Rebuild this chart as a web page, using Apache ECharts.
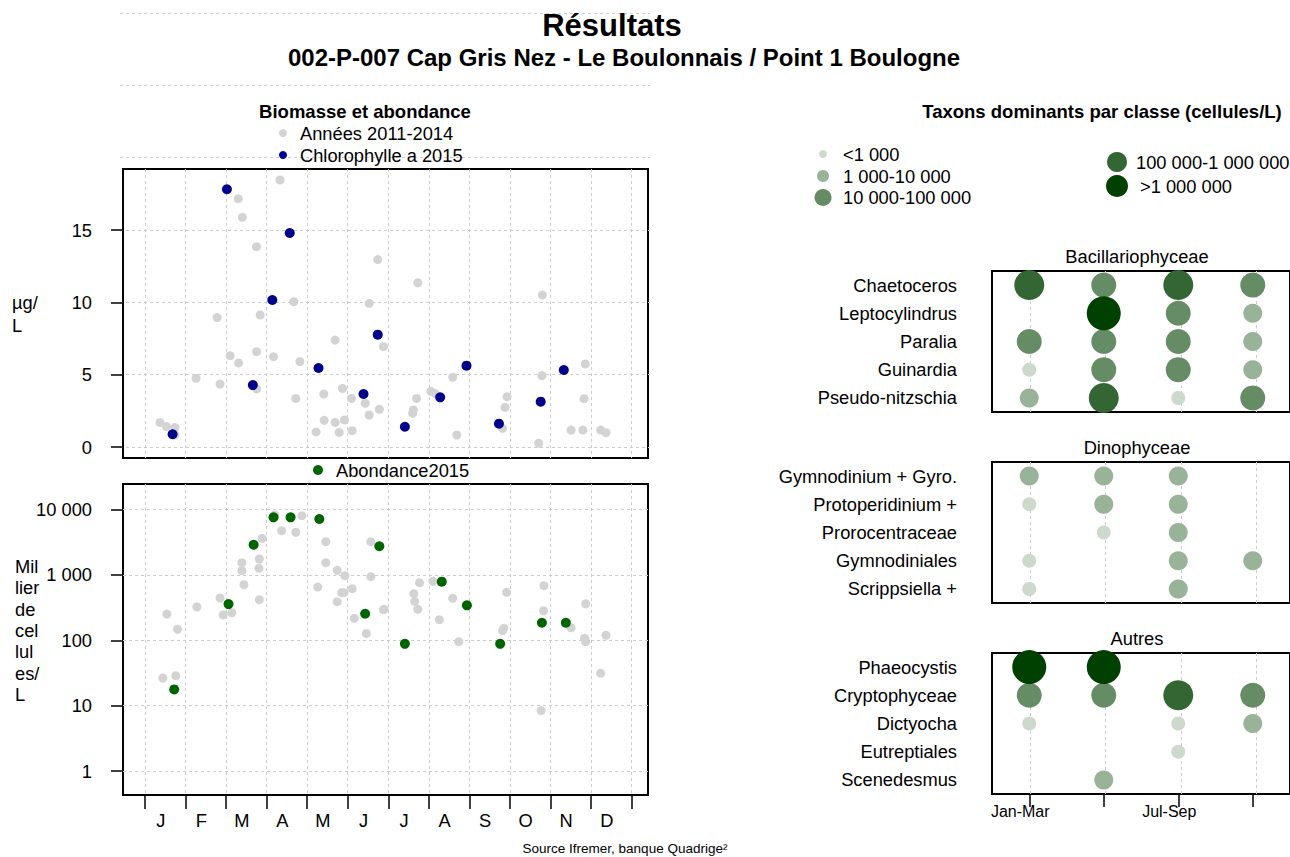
<!DOCTYPE html>
<html>
<head>
<meta charset="utf-8">
<title>Résultats</title>
<script src="https://cdn.jsdelivr.net/npm/echarts@6/dist/echarts.min.js"></script>
<style>html,body{margin:0;padding:0;background:#fff;}</style>
</head>
<body>
<div id="main" style="width:1290px;height:857px;"></div>
<script type="text/javascript">
// month position: 0 = start of January, 12 = end of December
var months = ['J', 'F', 'M', 'A', 'M', 'J', 'J', 'A', 'S', 'O', 'N', 'D'];

// chlorophylle a (µg/L) : [month, value]
var chloroPast = [
  [3.33, 18.45], [2.30, 17.16], [2.40, 15.87], [2.75, 13.84], [5.74, 12.95], [3.67, 10.04],
  [5.53, 9.93], [1.78, 8.94], [2.84, 9.12], [4.69, 7.39], [5.88, 6.93], [2.10, 6.31],
  [2.31, 5.81], [2.75, 6.59], [3.17, 6.24], [3.82, 5.90], [1.26, 4.75], [1.85, 4.35],
  [2.75, 4.01], [3.72, 3.36], [4.41, 3.66], [4.87, 4.05], [5.09, 3.36], [5.43, 3.02],
  [5.53, 2.21], [5.78, 2.60], [4.42, 1.84], [4.69, 1.70], [4.92, 1.87], [5.11, 1.13],
  [4.22, 1.04], [4.79, 1.01], [0.37, 1.70], [0.53, 1.41], [0.74, 1.34], [0.74, 0.83],
  [6.73, 11.35], [9.80, 10.50], [7.59, 4.82], [7.05, 3.85], [7.15, 3.71], [6.70, 3.36],
  [6.62, 2.56], [6.60, 2.33], [7.69, 0.83], [10.86, 5.74], [9.79, 4.93], [8.93, 3.48],
  [8.88, 2.74], [8.82, 1.29], [9.71, 0.26], [10.83, 3.34], [10.51, 1.17], [10.80, 1.17],
  [11.24, 1.17], [11.37, 0.99]
];
var chloro2015 = [
  [2.02, 17.81], [3.57, 14.79], [3.14, 10.16], [2.66, 4.28], [4.28, 5.46], [5.39, 3.66],
  [5.74, 7.76], [0.68, 0.88], [6.41, 1.40], [7.93, 5.62], [7.28, 3.43], [8.73, 1.61],
  [9.76, 3.13], [10.33, 5.32]
];

// abondance (milliers de cellules/L) : [month, value]
var abondPast = [
  [3.20, 8210], [3.87, 8010], [3.37, 4720], [3.72, 4470], [2.89, 3610], [4.46, 3210],
  [5.57, 3210], [2.82, 1745], [2.39, 1530], [4.46, 1530], [2.39, 1156], [2.81, 1256],
  [4.74, 1172], [4.93, 968], [5.57, 935], [2.44, 706], [4.26, 650], [5.11, 614],
  [4.91, 532], [4.85, 532], [1.85, 442], [2.82, 416], [4.74, 388], [1.28, 322],
  [2.14, 263], [1.93, 243], [0.54, 251], [0.80, 147], [5.16, 216], [5.88, 293],
  [5.46, 127], [0.44, 26.4], [0.76, 28.7],
  [6.77, 757], [7.10, 796], [6.63, 514], [6.65, 393], [6.73, 297], [5.90, 297],
  [7.59, 437], [7.26, 206], [7.74, 95], [8.92, 540], [8.85, 152], [8.82, 140],
  [9.84, 681], [9.83, 282], [9.77, 8.4], [10.51, 155], [10.87, 361], [10.84, 107],
  [10.87, 95], [11.37, 119], [11.24, 31.2]
];
var abond2015 = [
  [3.17, 7568], [3.59, 7568], [4.30, 7130], [2.68, 2884], [5.78, 2730], [2.06, 357],
  [5.43, 254], [0.72, 17.7], [7.32, 785], [7.94, 341], [6.41, 88], [8.76, 88],
  [9.79, 185], [10.38, 185]
];

// taxons dominants : classe d'abondance par trimestre (0 = absent)
var quarters = ['Jan-Mar', 'Apr-Jun', 'Jul-Sep', 'Oct-Dec'];
var classLabels = ['<1 000', '1 000-10 000', '10 000-100 000', '100 000-1 000 000', '>1 000 000'];

var bacilTaxa = ['Chaetoceros', 'Leptocylindrus', 'Paralia', 'Guinardia', 'Pseudo-nitzschia'];
var bacilClass = [[4, 3, 4, 3], [0, 5, 3, 2], [3, 3, 3, 2], [1, 3, 3, 2], [2, 4, 1, 3]];

var dinoTaxa = ['Gymnodinium + Gyro.', 'Protoperidinium +', 'Prorocentraceae', 'Gymnodiniales', 'Scrippsiella +'];
var dinoClass = [[2, 2, 2, 0], [1, 2, 2, 0], [0, 1, 2, 0], [1, 0, 2, 2], [1, 0, 2, 0]];

var autresTaxa = ['Phaeocystis', 'Cryptophyceae', 'Dictyocha', 'Eutreptiales', 'Scenedesmus'];
var autresClass = [[5, 5, 0, 0], [3, 3, 4, 3], [1, 0, 1, 2], [0, 0, 1, 0], [0, 2, 0, 0]];

var panelTitles = ['Bacillariophyceae', 'Dinophyceae', 'Autres'];

// ---- styles
var font = 'Liberation Sans, Arial, Helvetica, sans-serif';
var fs = 18.3;
var classColors = ['#ccd9cc', '#99b399', '#668c66', '#336633', '#004000'];
var classSizes = [14, 19, 25, 30, 34];
var dash = { show: true, interval: 0, lineStyle: { color: '#cccccc', type: [3, 3], width: 1 } };

function bare(o) {
  return Object.assign({
    show: true,
    axisLine: { show: false },
    axisTick: { show: false },
    axisLabel: { show: false },
    splitLine: { show: false }
  }, o);
}

var grid = [
  { left: 123, top: 169, width: 525, height: 289, show: true, borderColor: '#000', borderWidth: 2 },
  { left: 123, top: 484, width: 525, height: 311, show: true, borderColor: '#000', borderWidth: 2 },
  { left: 120, top: 13, width: 530, height: 434 },
  { left: 123, top: 230, width: 525, height: 217 },
  { left: 123, top: 509.5, width: 525, height: 261.5 },
  { left: 145, top: 169, width: 486.5, height: 289 },
  { left: 145, top: 484, width: 486.5, height: 311 }
];
var xAxis = [
  { type: 'value', gridIndex: 0, min: -0.543, max: 12.407, show: false },
  { type: 'value', gridIndex: 1, min: -0.543, max: 12.407, show: false },
  bare({ type: 'value', gridIndex: 2, min: 0, max: 1 }),
  bare({ type: 'value', gridIndex: 3, min: 0, max: 1 }),
  bare({ type: 'value', gridIndex: 4, min: 0, max: 1 }),
  bare({ type: 'category', gridIndex: 5, data: months, boundaryGap: true, splitLine: dash }),
  {
    type: 'category', gridIndex: 6, data: months, boundaryGap: true, position: 'bottom', offset: 4,
    axisLine: { show: false },
    axisTick: { show: true, interval: 0, length: 14, lineStyle: { color: '#000', width: 1.5 } },
    axisLabel: { interval: 0, margin: 12, fontSize: fs, color: '#000', padding: [0, 9, 0, 0] },
    splitLine: dash
  }
];
var yAxis = [
  { type: 'value', gridIndex: 0, min: -0.76, max: 19.21, show: false },
  { type: 'log', logBase: 10, gridIndex: 1, min: 0.4295, max: 24450, show: false },
  bare({ type: 'value', gridIndex: 2, min: 0, max: 30, interval: 5, splitLine: dash }),
  {
    type: 'value', gridIndex: 3, min: 0, max: 15, interval: 5,
    axisLine: { show: false },
    axisTick: { show: true, length: 12, lineStyle: { color: '#000', width: 1.5 } },
    axisLabel: { margin: 31, fontSize: fs, color: '#000' },
    splitLine: { show: false }
  },
  {
    type: 'log', logBase: 10, gridIndex: 4, min: 1, max: 10000, splitNumber: 5,
    axisLine: { show: false },
    axisTick: { show: true, length: 12, lineStyle: { color: '#000', width: 1.5 } },
    axisLabel: {
      margin: 31, fontSize: fs, color: '#000',
      formatter: function (v) { return String(Math.round(v)).replace(/\B(?=(\d{3})+(?!\d))/g, ' '); }
    },
    splitLine: dash
  },
  bare({ type: 'value', gridIndex: 5, min: 0, max: 1 }),
  bare({ type: 'value', gridIndex: 6, min: 0, max: 1 })
];

var series = [
  {
    type: 'scatter', name: 'Années 2011-2014', xAxisIndex: 0, yAxisIndex: 0, symbolSize: 9,
    itemStyle: { color: '#d3d3d3', opacity: 1 }, data: chloroPast
  },
  {
    type: 'scatter', name: 'Chlorophylle a 2015', xAxisIndex: 0, yAxisIndex: 0, symbolSize: 10, z: 3,
    itemStyle: { color: '#00008b', opacity: 1 }, data: chloro2015
  },
  {
    type: 'scatter', name: 'Années 2011-2014', xAxisIndex: 1, yAxisIndex: 1, symbolSize: 9,
    itemStyle: { color: '#d3d3d3', opacity: 1 }, data: abondPast
  },
  {
    type: 'scatter', name: 'Abondance2015', xAxisIndex: 1, yAxisIndex: 1, symbolSize: 10, z: 3,
    itemStyle: { color: '#006400', opacity: 1 }, data: abond2015
  }
];

function titleText(text, x, y, size, weight) {
  return {
    text: text, left: x, top: y, textAlign: 'center', padding: 0,
    textStyle: { fontSize: size, fontWeight: weight, color: '#000' }
  };
}
var title = [
  titleText('Résultats', 612, 10, 31, 'bold'),
  titleText('002-P-007 Cap Gris Nez - Le Boulonnais / Point 1 Boulogne', 624, 45, 24, 'bold'),
  titleText('Biomasse et abondance', 365, 102, 18.5, 'bold'),
  titleText('Taxons dominants par classe (cellules/L)', 1102, 102, 18.5, 'bold'),
  titleText('Source Ifremer, banque Quadrige²', 625, 841, 13.5, 'normal')
];

// right-hand panels
var panelTaxa = [bacilTaxa, dinoTaxa, autresTaxa];
var panelClass = [bacilClass, dinoClass, autresClass];
var panelTop = [271, 462, 653];
var titleTop = [247, 438, 629];

panelTaxa.forEach(function (taxa, p) {
  var gi = grid.length;
  grid.push({ left: 992, top: panelTop[p], width: 302, height: 141, show: true, borderColor: '#000', borderWidth: 2 });
  grid.push({ left: 1029.75, top: panelTop[p], width: 226.5, height: 141 });
  var last = p === 2;
  xAxis.push({
    type: 'category', gridIndex: gi, data: quarters, boundaryGap: true, position: 'bottom',
    axisLine: { show: false },
    axisTick: { show: last, alignWithLabel: true, interval: 0, length: 13, lineStyle: { color: '#000', width: 1.5 } },
    axisLabel: { show: last, interval: 1, margin: 9, fontSize: 16, color: '#000', padding: [0, 18, 0, 0] },
    splitLine: { show: false }
  });
  xAxis.push(bare({ type: 'value', gridIndex: gi + 1, min: 1, max: 4, interval: 1, splitLine: dash }));
  yAxis.push({
    type: 'category', gridIndex: gi, data: taxa, inverse: true, boundaryGap: true,
    axisLine: { show: false }, axisTick: { show: false },
    axisLabel: { margin: 35, fontSize: fs, color: '#000' },
    splitLine: { show: false }
  });
  yAxis.push(bare({ type: 'value', gridIndex: gi + 1, min: 0, max: 1 }));

  for (var c = 1; c <= 5; c++) {
    var pts = [];
    panelClass[p].forEach(function (row, ti) {
      row.forEach(function (cl, qi) { if (cl === c) pts.push([qi, ti]); });
    });
    series.push({
      type: 'scatter', name: classLabels[c - 1], xAxisIndex: gi, yAxisIndex: gi,
      symbolSize: classSizes[c - 1], z: 3,
      itemStyle: { color: classColors[c - 1], opacity: 1 }, data: pts
    });
  }
  title.push(titleText(panelTitles[p], 1137, titleTop[p], fs, 'normal'));
});

// legends
var legendText = { fontSize: fs, color: '#000' };
var legend = [
  {
    data: ['Années 2011-2014', 'Chlorophylle a 2015'], orient: 'vertical', left: 279, top: 124, padding: 0,
    itemWidth: 8, itemHeight: 8, itemGap: 4, icon: 'circle', selectedMode: false,
    textStyle: Object.assign({ padding: [0, 0, 0, 8] }, legendText)
  },
  {
    data: ['Abondance2015'], left: 313, top: 461, padding: 0, itemWidth: 10, itemHeight: 10, icon: 'circle',
    selectedMode: false, textStyle: Object.assign({ padding: [0, 0, 0, 8] }, legendText)
  }
];
var classLegendPos = [[823, 153, 8, 843], [823, 175, 12, 843], [823, 197, 17, 843], [1117, 162, 20, 1136], [1117, 186, 22, 1140]];
classLabels.forEach(function (lab, i) {
  var pos = classLegendPos[i];
  legend.push({
    data: [lab], left: pos[0] - pos[2] / 2, top: pos[1] - Math.max(pos[2], 16) / 2, padding: 0,
    itemWidth: pos[2], itemHeight: pos[2], icon: 'circle', selectedMode: false,
    textStyle: Object.assign({ padding: [0, 0, 0, Math.max(0, pos[3] - (pos[0] + pos[2] / 2 + 5))] }, legendText)
  });
});

var myChart = echarts.init(document.getElementById('main'), null, { renderer: 'svg' });
var option = {
  animation: false,
  backgroundColor: '#fff',
  textStyle: { fontFamily: font },
  title: title,
  legend: legend,
  grid: grid,
  xAxis: xAxis,
  yAxis: yAxis,
  series: series,
  graphic: [
    { type: 'text', left: 12, top: 291, style: { text: 'µg/\nL', fontSize: fs, lineHeight: 23, fill: '#000', fontFamily: font } },
    { type: 'text', left: 15, top: 556, style: { text: 'Mil\nlier\nde\ncel\nlul\nes/\nL', fontSize: fs, lineHeight: 21.3, fill: '#000', fontFamily: font } }
  ]
};
myChart.setOption(option);
</script>
</body>
</html>
